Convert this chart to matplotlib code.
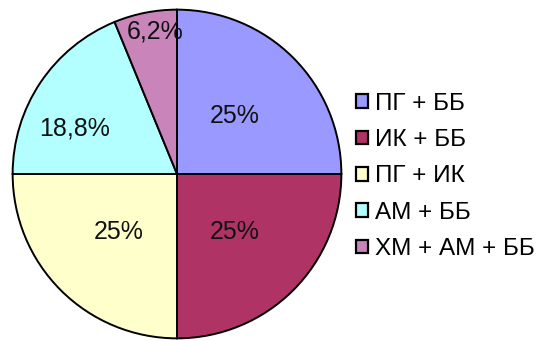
import numpy as np
import matplotlib
matplotlib.use('Agg')
import matplotlib.pyplot as plt
from matplotlib.patches import Patch

plt.rcParams['font.family'] = ['Liberation Sans', 'DejaVu Sans']

# data
labels = ['ПГ + ББ', 'ИК + ББ', 'ПГ + ИК', 'АМ + ББ', 'ХМ + АМ + ББ']
shares = [25, 25, 25, 18.8, 6.2]
share_text = ['25%', '25%', '25%', '18,8%', '6,2%']
colors = ['#9999FF', '#B03366', '#FFFFCC', '#B3FFFF', '#C985BA']

fig = plt.figure(figsize=(5.37, 3.41), dpi=100)
ax = fig.add_axes([11 / 537, 1 / 341, 332 / 537, 332 / 341])

wedges, _ = ax.pie(shares, colors=colors, startangle=90, counterclock=False,
                   wedgeprops=dict(edgecolor='black', linewidth=1.4))
ax.set_xlim(-1.01, 1.01)
ax.set_ylim(-1.01, 1.01)
ax.set_aspect('equal')

# label placement (distance from centre, angle shift) as Excel put them
dist = [0.5, 0.5, 0.5, 0.68, 0.875]
shift = [0, 0, 0, 10, -2.5]
for w, t, d, s in zip(wedges, share_text, dist, shift):
    ang = np.deg2rad((w.theta1 + w.theta2) / 2 + s)
    ax.text(d * np.cos(ang), d * np.sin(ang), t, ha='center', va='center',
            fontsize=18, color='#111111')

handles = [Patch(facecolor=c, edgecolor='black', linewidth=1.6) for c in colors]
fig.legend(handles, labels, loc='center left', bbox_to_anchor=(356 / 537, 0.5 - 6 / 341),
           frameon=False, fontsize=17.5, handlelength=0.5, handleheight=0.5,
           handletextpad=0.3, labelspacing=0.59, borderaxespad=0, borderpad=0)

fig.savefig('out.png', dpi=100, facecolor='white')
